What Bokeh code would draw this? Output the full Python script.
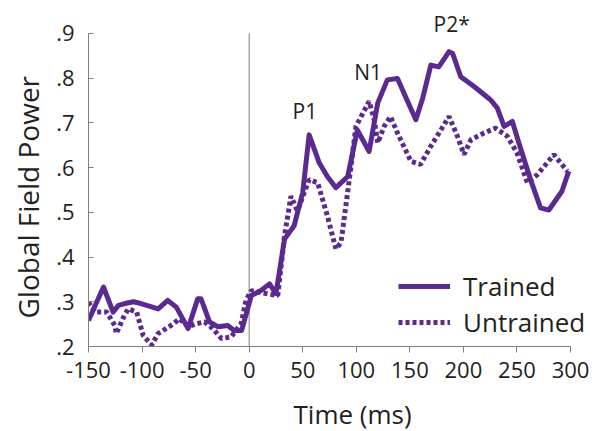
from bokeh.plotting import figure
from bokeh.models import Range1d, Label, Legend, LegendItem, FixedTicker, Title
from bokeh.embed import file_html
from bokeh.resources import INLINE

# Trained (solid)
trained_t = [-150, -136, -127, -122, -116, -108, -101, -85, -76, -68, -57, -48, -45, -37, -29, -20, -14,
             -7, 2, 11, 19, 25, 33, 42, 50, 56, 65.5, 73, 81, 92, 101, 112, 120, 129, 138.5, 146,
             155.6, 162, 169.6, 177, 186.6, 190, 197.5, 210, 225.5, 231.7, 238, 245.7, 251.8,
             262.7, 272, 279.8, 292, 298.4]
trained_v = [0.258, 0.333, 0.277, 0.292, 0.296, 0.300, 0.296, 0.284, 0.303, 0.288, 0.240, 0.307, 0.307,
             0.255, 0.244, 0.247, 0.236, 0.236, 0.314, 0.325, 0.340, 0.318, 0.440, 0.470, 0.544,
             0.673, 0.610, 0.580, 0.555, 0.580, 0.684, 0.636, 0.744, 0.796, 0.799, 0.758, 0.707,
             0.755, 0.829, 0.825, 0.859, 0.855, 0.803, 0.781, 0.751, 0.733, 0.692, 0.703, 0.655,
             0.573, 0.510, 0.505, 0.547, 0.592]

# Untrained (dotted)
untrained_t = [-150, -144, -133, -125.5, -124, -118, -113, -105, -99, -91, -85, -73, -65, -57, -49.4,
               -41.6, -34, -26, -17, -7.5, -3, 2, 9.6, 26.7, 33, 39, 45, 56, 64, 73, 81, 85.7, 93.5,
               99.7, 112, 116.7, 120, 126, 132, 138.5, 151, 160, 169.6, 179, 186.6, 194.4, 200.6,
               207, 219, 230, 241, 250, 259.7, 269, 284.5, 297]
untrained_v = [0.299, 0.277, 0.277, 0.247, 0.229, 0.262, 0.284, 0.277, 0.225, 0.203, 0.229, 0.247,
               0.262, 0.244, 0.251, 0.255, 0.240, 0.218, 0.221, 0.251, 0.303, 0.325, 0.321, 0.314,
               0.447, 0.536, 0.503, 0.573, 0.566, 0.492, 0.418, 0.432, 0.573, 0.692, 0.748, 0.707,
               0.655, 0.692, 0.714, 0.677, 0.614, 0.607, 0.648, 0.684, 0.714, 0.670, 0.629, 0.662,
               0.677, 0.688, 0.670, 0.633, 0.566, 0.584, 0.629, 0.592]

x_ticks = [-150, -100, -50, 0, 50, 100, 150, 200, 250, 300]
x_tick_labels = ["-150", "-100", "-50", "0", "50", "100", "150", "200", "250", "300"]
y_ticks = [0.2, 0.3, 0.4, 0.5, 0.6, 0.7, 0.8, 0.9]
y_tick_labels = [".2", ".3", ".4", ".5", ".6", ".7", ".8", ".9"]

peak_names = ["P1", "N1", "P2*"]
peak_t = [52, 111, 189]
peak_v = [0.727, 0.813, 0.92]

PURPLE = "#5b2a90"
TEXT = "#231f20"
AXIS = "#7f7f7f"
FONT = "Open Sans"

# frame is a bit wider/taller than the axes (axes are bounded) so texts are not clipped
p = figure(width=597, height=444, output_backend="svg", toolbar_location=None,
           x_range=Range1d(-150, 325.2), y_range=Range1d(0.2, 0.9622),
           min_border_left=87, min_border_right=0, min_border_top=5, min_border_bottom=96)
p.outline_line_color = None
p.xgrid.visible = False
p.ygrid.visible = False
p.background_fill_color = "white"

# zero reference line, spanning the y axis extent
p.segment(x0=[x_ticks[3]], y0=[y_ticks[0]], x1=[x_ticks[3]], y1=[y_ticks[-1]],
          line_color=AXIS, line_width=1)

r1 = p.line(trained_t, trained_v, line_color=PURPLE, line_width=5, line_join="round")
r2 = p.line(untrained_t, untrained_v, line_color=PURPLE, line_width=5, line_dash="4 3")

xa = p.xaxis[0]
xa.ticker = FixedTicker(ticks=x_ticks)
xa.bounds = (x_ticks[0], x_ticks[-1])
xa.major_label_overrides = {t: l for t, l in zip(x_ticks, x_tick_labels)}
xa.axis_line_color = AXIS
xa.major_tick_line_color = AXIS
xa.major_tick_in = 0
xa.major_tick_out = 6
xa.minor_tick_line_color = None
xa.major_label_text_font = FONT
xa.major_label_text_font_size = "22px"
xa.major_label_text_color = TEXT
xa.major_label_standoff = 9

ya = p.yaxis[0]
ya.ticker = FixedTicker(ticks=y_ticks)
ya.bounds = (y_ticks[0], y_ticks[-1])
ya.major_label_overrides = {t: l for t, l in zip(y_ticks, y_tick_labels)}
ya.axis_line_color = AXIS
ya.major_tick_line_color = AXIS
ya.major_tick_in = 5
ya.major_tick_out = 0
ya.minor_tick_line_color = None
ya.major_label_text_font = FONT
ya.major_label_text_font_size = "22px"
ya.major_label_text_color = TEXT
ya.major_label_standoff = 14

p.add_layout(Title(text="Time (ms)", align="left", offset=205, text_font=FONT,
                   text_font_size="26px", text_font_style="normal", text_color=TEXT,
                   text_line_height=0.6, standoff=26), "below")
p.add_layout(Title(text="Global Field Power", align="left", offset=28, text_font=FONT,
                   text_font_size="28px", text_font_style="normal", text_color=TEXT,
                   standoff=13), "left")

for name, t, v in zip(peak_names, peak_t, peak_v):
    p.add_layout(Label(x=t, y=v, text=name, text_font=FONT, text_font_size="21px",
                       text_color=TEXT, text_align="center", text_baseline="middle"))

legend = Legend(items=[LegendItem(label="Trained", renderers=[r1]),
                       LegendItem(label="Untrained", renderers=[r2])],
                location=(310, 6), background_fill_alpha=0, border_line_color=None,
                label_text_font=FONT, label_text_font_size="26px", label_text_color=TEXT,
                glyph_width=52, glyph_height=30, label_height=30, spacing=-8, padding=4,
                label_standoff=13, margin=0)
p.add_layout(legend)

open("out.html", "w").write(file_html(p, INLINE))
